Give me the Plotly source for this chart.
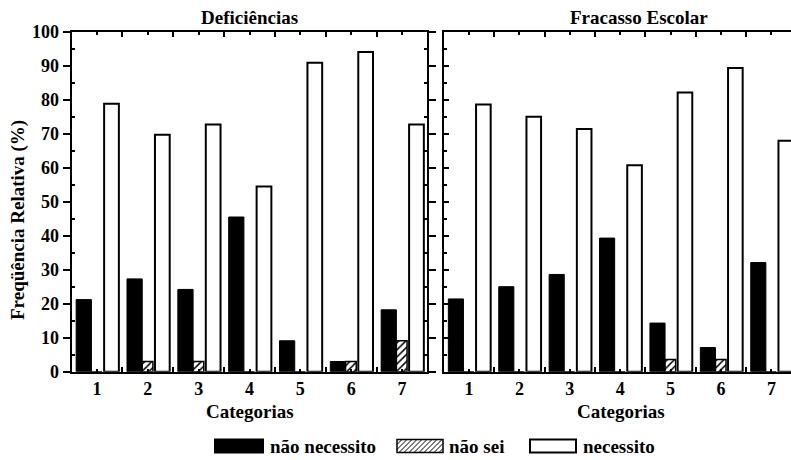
import plotly.graph_objects as go

# ---------------- data ----------------
categories = [1, 2, 3, 4, 5, 6, 7]
series_names = ["não necessito", "não sei", "necessito"]

# Deficiências (left panel)
def_nao_necessito = [21.2, 27.3, 24.2, 45.5, 9.1, 3.0, 18.2]
def_nao_sei = [0.0, 3.0, 3.0, 0.0, 0.0, 3.0, 9.1]
def_necessito = [78.8, 69.7, 72.7, 54.5, 90.9, 94.0, 72.7]

# Fracasso Escolar (right panel)
fra_nao_necessito = [21.4, 25.0, 28.6, 39.3, 14.3, 7.1, 32.1]
fra_nao_sei = [0.0, 0.0, 0.0, 0.0, 3.6, 3.6, 0.0]
fra_necessito = [78.6, 75.0, 71.4, 60.7, 82.1, 89.3, 67.9]

panel_titles = ["Deficiências", "Fracasso Escolar"]
x_title = "Categorias"
y_title = "Freqüência Relativa (%)"
y_ticks = [0, 10, 20, 30, 40, 50, 60, 70, 80, 90, 100]

# ---------------- style ----------------
W, H = 791, 460
FONT = "Liberation Serif"


def px(x):
    return x / W


def py(y):
    return 1 - y / H


def b(s):
    return f"<b>{s}</b>"


bar_styles = [
    dict(offset=-0.41, width=0.30, marker=dict(color="black", line=dict(color="black", width=1))),
    dict(offset=-0.11, width=0.21, marker=dict(color="white", line=dict(color="black", width=1.5),
                                               pattern=dict(shape="/", fgcolor="black", bgcolor="white",
                                                            size=5, solidity=0.3))),
    dict(offset=0.14, width=0.29, marker=dict(color="white", line=dict(color="black", width=2))),
]

fig = go.Figure()

panels = [
    ([def_nao_necessito, def_nao_sei, def_necessito], "x", "y"),
    ([fra_nao_necessito, fra_nao_sei, fra_necessito], "x2", "y2"),
]
for values, xa, ya in panels:
    for name, vals, st in zip(series_names, values, bar_styles):
        fig.add_trace(go.Bar(x=categories, y=vals, name=name, xaxis=xa, yaxis=ya,
                             offset=st["offset"], width=st["width"], marker=st["marker"],
                             showlegend=False))

tickfont = dict(family=FONT, size=18, color="black")
common_x = dict(tickmode="array", tickvals=categories, ticktext=[b(c) for c in categories],
                showgrid=False, zeroline=False, showline=True, linecolor="black", linewidth=2,
                ticks="inside", ticklen=3, tickwidth=1.5, tickcolor="black",
                minor=dict(tickmode="linear", tick0=0.5, dtick=1, ticks="inside", ticklen=5,
                           tickwidth=1.5, tickcolor="black"),
                tickfont=tickfont, mirror="ticks", fixedrange=True, automargin=False)
common_y = dict(range=[0, 100], tickmode="array", tickvals=y_ticks, ticktext=[b(t) for t in y_ticks],
                showgrid=False, zeroline=False, showline=True, linecolor="black", linewidth=2,
                ticks="outside", ticklen=7, tickwidth=1.5, tickcolor="black",
                minor=dict(tickmode="linear", tick0=5, dtick=10, ticks="inside", ticklen=3,
                           tickwidth=1.5, tickcolor="black"),
                tickfont=tickfont, fixedrange=True, automargin=False)

ydom = [py(371.7), py(31.7)]
fig.update_layout(
    template="none",
    width=W, height=H, margin=dict(l=0, r=0, t=0, b=0, pad=0, autoexpand=False),
    paper_bgcolor="white", plot_bgcolor="white",
    barmode="overlay", showlegend=False,
    font=dict(family=FONT, color="black"),
    xaxis=dict(common_x, domain=[px(71.6), px(427.4)], range=[0.5, 7.5], anchor="y"),
    yaxis=dict(common_y, domain=ydom, anchor="x", mirror="ticks"),
    xaxis2=dict(common_x, domain=[px(443.8), 1.0], range=[0.5, 0.5 + (W - 443.8) / 50.4], anchor="y2"),
    yaxis2=dict(common_y, domain=ydom, anchor="x2", showticklabels=False, mirror=False,
                ticks="inside", ticklen=5),
)

big = dict(family=FONT, size=19, color="black")
annotations = [
    dict(text=panel_titles[0], x=px(249.5), y=py(17)),
    dict(text=panel_titles[1], x=px(639), y=py(17)),
    dict(text=x_title, x=px(249.7), y=py(411.7)),
    dict(text=x_title, x=px(620.7), y=py(411.7)),
    dict(text=y_title, x=px(18), y=py(220), textangle=-90),
]
for a in annotations:
    a["text"] = b(a["text"])
    fig.add_annotation(xref="paper", yref="paper", showarrow=False, font=big,
                       xanchor="center", yanchor="middle", **a)

# ---------------- manual legend ----------------
leg_y0, leg_y1 = 439.5, 452.5
legend_items = [
    (series_names[0], 215, 263, 268),
    (series_names[1], 397, 443, 447),
    (series_names[2], 530, 576, 581),
]
for i, (name, x0, x1, tx) in enumerate(legend_items):
    fill = "black" if i == 0 else "white"
    fig.add_shape(type="rect", xref="paper", yref="paper",
                  x0=px(x0), x1=px(x1), y0=py(leg_y1), y1=py(leg_y0),
                  fillcolor=fill, line=dict(color="black", width=1.5 if i == 1 else 2))
    if i == 1:
        h = leg_y1 - leg_y0
        path = ""
        c = x0 - h
        while c < x1:
            t0 = max(0.0, (x0 - c) / h)
            t1 = min(1.0, (x1 - c) / h)
            if t1 > t0:
                ax, ay = c + t0 * h, leg_y1 - t0 * h
                bx, by = c + t1 * h, leg_y1 - t1 * h
                path += f"M{px(ax):.5f},{py(ay):.5f} L{px(bx):.5f},{py(by):.5f} "
            c += 5
        fig.add_shape(type="path", xref="paper", yref="paper", path=path,
                      line=dict(color="black", width=1))
    fig.add_annotation(xref="paper", yref="paper", showarrow=False, font=big,
                       text=b(name), x=px(tx), y=py(446), xanchor="left", yanchor="middle")

fig.write_html("out.html", include_plotlyjs=True, config={"displayModeBar": False},
               post_script="document.body.style.margin='0';")
